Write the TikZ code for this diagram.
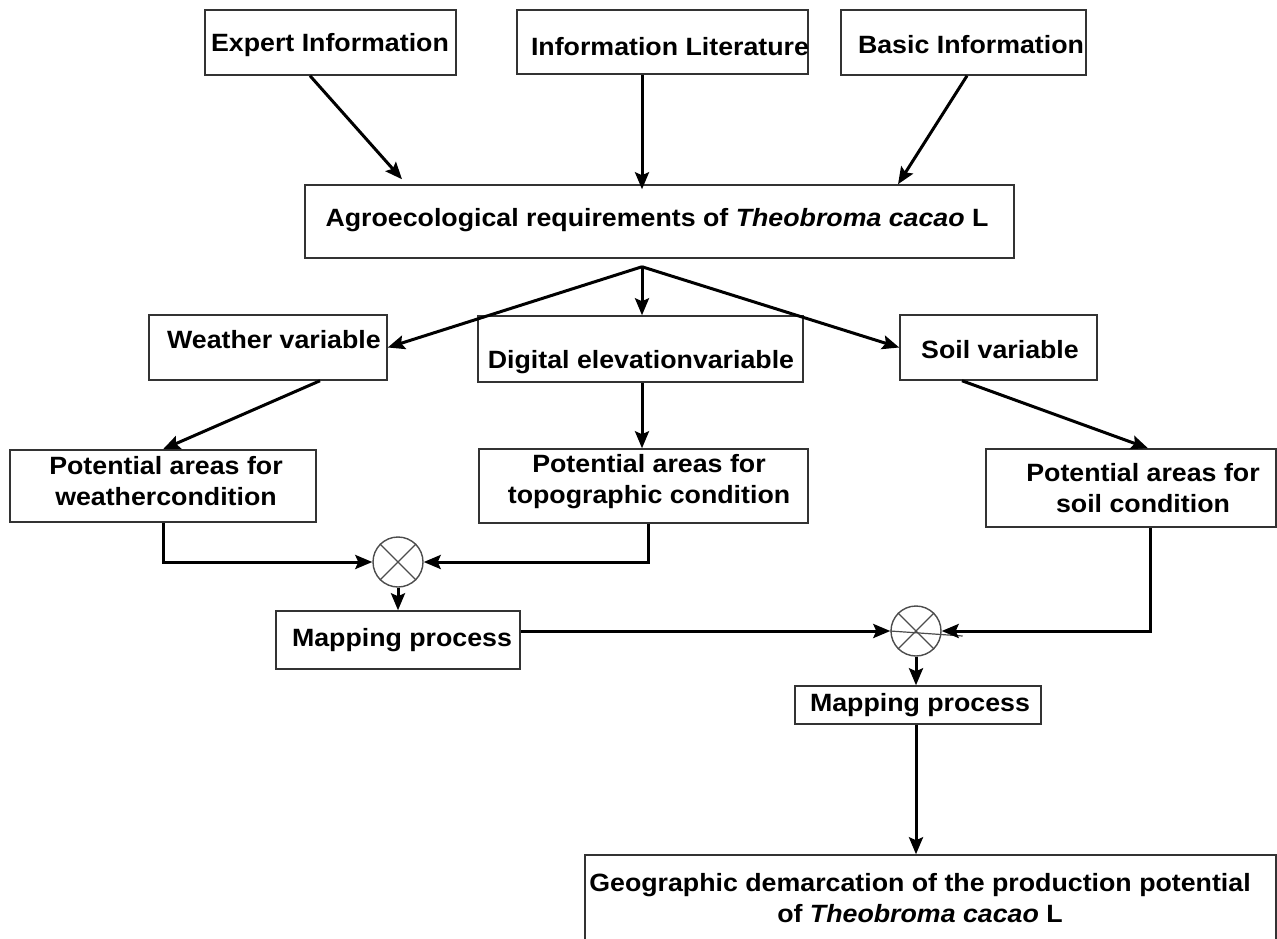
\documentclass[tikz,border=0pt]{standalone}
\usepackage{fontspec}
\setmainfont[FakeStretch=1.07]{Liberation Sans}
\usetikzlibrary{arrows.meta,calc}
\begin{document}
\begin{tikzpicture}[x=1pt,y=-1pt,
  box/.style={draw=black!80, line width=1.5pt, inner sep=0pt},
  txt/.style={font=\fontsize{25}{31}\selectfont\bfseries, align=center, inner sep=0pt},
  arr/.style={line width=3pt, -{Stealth[length=17pt,width=14pt,inset=3pt]}},
  mix/.style={circle, draw=black!70, line width=1.4pt, minimum size=50pt, inner sep=0pt},
  xline/.style={draw=black!70, line width=1.2pt}]
\useasboundingbox (0,0) rectangle (1277,938);
% boxes
\node[box, minimum width=251pt, minimum height=65pt] (ei) at (330.5,42.5) {};
\node[box, minimum width=291pt, minimum height=64pt] (il) at (662.5,42) {};
\node[box, minimum width=245pt, minimum height=65pt] (bi) at (963.5,42.5) {};
\node[box, minimum width=709pt, minimum height=73pt] (ag) at (659.5,221.5) {};
\node[box, minimum width=238pt, minimum height=65pt] (wv) at (268,347.5) {};
\node[box, minimum width=325pt, minimum height=66pt] (de) at (640.5,349) {};
\node[box, minimum width=197pt, minimum height=65pt] (sv) at (998.5,347.5) {};
\node[box, minimum width=306pt, minimum height=72pt] (pw) at (163,486) {};
\node[box, minimum width=329pt, minimum height=74pt] (pt) at (643.5,486) {};
\node[box, minimum width=290pt, minimum height=78pt] (ps) at (1131,488) {};
\node[box, minimum width=244pt, minimum height=58pt] (mp1) at (398,640) {};
\node[box, minimum width=246pt, minimum height=38pt] (mp2) at (918,705) {};
\node[box, minimum width=691pt, minimum height=90pt] (gd) at (930.5,900) {};
% texts
\node[txt] (eit) at (330,45) {Expert Information};
\node[txt] (ilt) at (670,47) {Information Literature};
\node[txt] (bit) at (971,45) {Basic Information};
\node[txt] (agt) at (657,220.5) {Agroecological requirements of \textit{Theobroma cacao} L};
\node[txt] (wvt) at (274,339.5) {Weather variable};
\node[txt] (det) at (641,362) {Digital elevationvariable};
\node[txt] (svt) at (1000,349.5) {Soil variable};
\node[txt] (pwt) at (166,481.5) {Potential areas for\\weathercondition};
\node[txt] (ptt) at (649,481.5) {Potential areas for\\topographic condition};
\node[txt] (pst) at (1143,488.5) {Potential areas for\\soil condition};
\node[txt] (mp1t) at (402,640) {Mapping process};
\node[txt] (mp2t) at (920,705.5) {Mapping process};
\node[txt] (gdt) at (920,898) {Geographic demarcation of the production potential\\of \textit{Theobroma cacao} L};
% mixers
\node[mix] (c1) at (398,562) {};
\node[mix] (c2) at (916,631) {};
\draw[xline] (c1.north west) -- (c1.south east) (c1.north east) -- (c1.south west);
\draw[xline] (c2.north west) -- (c2.south east) (c2.north east) -- (c2.south west);
\coordinate (c2tail) at ($(c2.east)+(21,5)$);
\draw[xline] (c2.west) -- (c2tail);
% connectors
\draw[arr] ($(ei.south)+(-20.5,0)$) -- ($(ag.north)+(-257.5,-5)$);
\draw[arr] ($(il.south)+(-20.5,0)$) -- ($(ag.north)+(-17.5,5)$);
\draw[arr] ($(bi.south)+(3.5,0)$) -- ($(ag.north)+(238.5,0)$);
\coordinate (fk) at ($(ag.south)+(-17.5,8)$);
\draw[arr] (fk) -- (wv.east);
\draw[arr] (fk) -- ($(de.north)+(1.5,0)$);
\draw[arr] (fk) -- (sv.west);
\draw[arr] ($(wv.south)+(52,0)$) -- (pw.north);
\draw[arr] ($(de.south)+(1.5,0)$) -- ($(pt.north)+(-1.5,0)$);
\draw[arr] ($(sv.south)+(-36.5,0)$) -- ($(ps.north)+(17,0)$);
\draw[arr] (pw.south) |- (c1.west);
\draw[arr] ($(pt.south)+(4.5,0)$) |- (c1.east);
\draw[arr] (c1.south) -- (mp1.north);
\draw[arr] ($(mp1.east)+(0,-9)$) -- (c2.west);
\draw[arr] ($(ps.south)+(19,0)$) |- (c2.east);
\draw[arr] (c2.south) -- (c2.south |- mp2.north);
\draw[arr] ($(mp2.south)+(-2,0)$) -- ($(gd.north)+(-14.5,0)$);
\end{tikzpicture}
\end{document}
